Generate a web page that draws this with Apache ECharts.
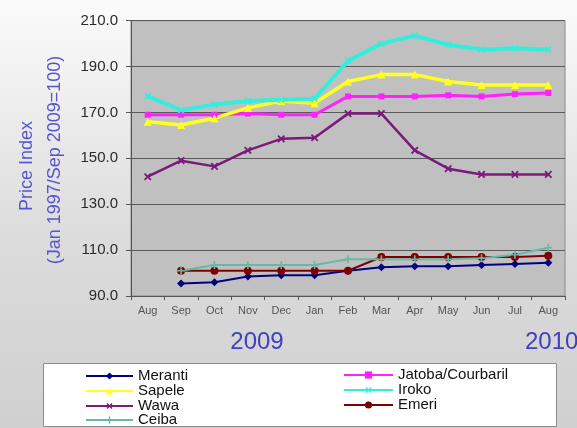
<!DOCTYPE html>
<html>
<head>
<meta charset="utf-8">
<script src="https://cdn.jsdelivr.net/npm/echarts@6/dist/echarts.min.js"></script>
<style>
html,body{margin:0;padding:0;background:#fff;}
#c{width:577px;height:428px;}
</style>
</head>
<body>
<div id="c"></div>
<script>
var months = ['Aug','Sep','Oct','Nov','Dec','Jan','Feb','Mar','Apr','May','Jun','Jul','Aug'];
var yTicks = [90, 110, 130, 150, 170, 190, 210];
var yearLabels = ['2009', '2010'];
var yTitle = ['Price Index', '(Jan 1997/Sep 2009=100)'];

var meranti = [null, 95.5, 96, 98.5, 99, 99, 101, 102.5, 103, 103, 103.5, 104, 104.5];
var jatoba  = [169, 169, 169, 169.5, 169, 169, 177, 177, 177, 177.5, 177, 178, 178.5];
var sapele  = [166, 164.5, 167.5, 172, 175, 174, 183.5, 186.5, 186.5, 183.5, 182, 182, 182];
var iroko   = [177, 171, 173.5, 175, 175.5, 176, 192.5, 200, 203.5, 199.5, 197.5, 198, 197.5];
var wawa    = [142, 149, 146.5, 153.5, 158.5, 159, 169.5, 169.5, 153.5, 145.5, 143, 143, 143];
var emeri   = [null, 101, 101, 101, 101, 101, 101, 107, 107, 107, 107, 107, 107.5];
var ceiba   = [null, 101, 103.5, 103.5, 103.5, 103.5, 106, 106, 106, 106, 106.5, 108, 111];

var names = ['Meranti', 'Jatoba/Courbaril', 'Sapele', 'Iroko', 'Wawa', 'Emeri', 'Ceiba'];

var PLUS = 'path://M4,0H6V4H10V6H6V10H4V6H0V4H4Z';

function mk(name, data, color, symbol, size, width, rot) {
  return {
    name: name, type: 'line', data: data,
    symbol: symbol, symbolSize: size, symbolRotate: rot || 0,
    showSymbol: true,
    lineStyle: {color: color, width: width},
    itemStyle: {color: color},
    emphasis: {disabled: true},
    connectNulls: false,
    animation: false
  };
}

var legendText = {fontSize: 15, color: '#111', fontFamily: 'Liberation Sans, Arial', lineHeight: 14.7};
function lg(data, left, top, w) {
  return {
    data: data, orient: 'vertical', left: left, top: top,
    itemWidth: w, itemHeight: 9, itemGap: 0,
    textStyle: legendText, selectedMode: false, padding: 0
  };
}

var chart = echarts.init(document.getElementById('c'));
chart.setOption({
  animation: false,
  backgroundColor: {
    type: 'linear', x: 0, y: 0, x2: 0, y2: 1,
    colorStops: [{offset: 0, color: '#fbfbfb'}, {offset: 0.55, color: '#dcdcdc'}, {offset: 1, color: '#d0d0d0'}]
  },
  grid: {
    left: 131, right: 12, top: 20.7, bottom: 132,
    show: true, backgroundColor: '#c0c0c0', borderColor: '#8a8a8a', borderWidth: 1
  },
  xAxis: {
    type: 'category', data: months, boundaryGap: true,
    axisLine: {lineStyle: {color: '#555', width: 1}},
    axisTick: {show: true, alignWithLabel: false, length: 4, lineStyle: {color: '#555'}},
    axisLabel: {color: '#555', fontSize: 11, fontFamily: 'Liberation Sans, Arial', margin: 9, interval: 0}
  },
  yAxis: {
    type: 'value', min: yTicks[0], max: yTicks[yTicks.length - 1], interval: 20,
    axisLine: {show: true, lineStyle: {color: '#555', width: 1}},
    axisTick: {show: true, length: 5, lineStyle: {color: '#555'}},
    axisLabel: {color: '#2a2a2a', fontSize: 15, fontFamily: 'Liberation Sans, Arial', margin: 13,
      formatter: function (v) { return v.toFixed(1); }},
    splitLine: {show: true, lineStyle: {color: '#5a5a5a', width: 1}}
  },
  legend: [
    lg([names[0], names[2], names[4]], 85, 368.5, 47),
    lg([names[6]], 85, 368.5 + 3 * 14.7, 47),
    lg([names[1], names[3], names[5]], 343, 367.5, 49)
  ],
  graphic: [
    {type: 'rect', z: -1, silent: true, shape: {x: 43.5, y: 363.5, width: 513, height: 63},
      style: {fill: '#ffffff', stroke: '#8a8a8a', lineWidth: 1}},
    {type: 'text', silent: true, x: 27, y: 166, rotation: Math.PI / 2,
      style: {text: yTitle[0], fill: '#5656cc', font: '18px "Liberation Sans", Arial', align: 'center', verticalAlign: 'middle'}},
    {type: 'text', silent: true, x: 55, y: 160, rotation: Math.PI / 2,
      style: {text: yTitle[1], fill: '#5656cc', font: '18px "Liberation Sans", Arial', align: 'center', verticalAlign: 'middle'}},
    {type: 'text', silent: true, x: 257, y: 342,
      style: {text: yearLabels[0], fill: '#4040c0', font: '24px "Liberation Sans", Arial', align: 'center', verticalAlign: 'middle'}},
    {type: 'text', silent: true, x: 525, y: 342,
      style: {text: yearLabels[1], fill: '#4040c0', font: '24px "Liberation Sans", Arial', align: 'left', verticalAlign: 'middle'}}
  ],
  series: [
    mk(names[0], meranti, '#000080', 'diamond', 8, 2),
    mk(names[1], jatoba, '#ff22ff', 'rect', 6, 3),
    mk(names[2], sapele, '#ffff22', 'triangle', 8, 3.5),
    mk(names[3], iroko, '#33eedd', PLUS, 8, 4, 45),
    mk(names[4], wawa, '#7a1a7a', PLUS, 9, 2.5, 45),
    mk(names[5], emeri, '#800000', 'circle', 8, 2),
    mk(names[6], ceiba, '#66b8a8', PLUS, 8, 2)
  ]
});
</script>
</body>
</html>
